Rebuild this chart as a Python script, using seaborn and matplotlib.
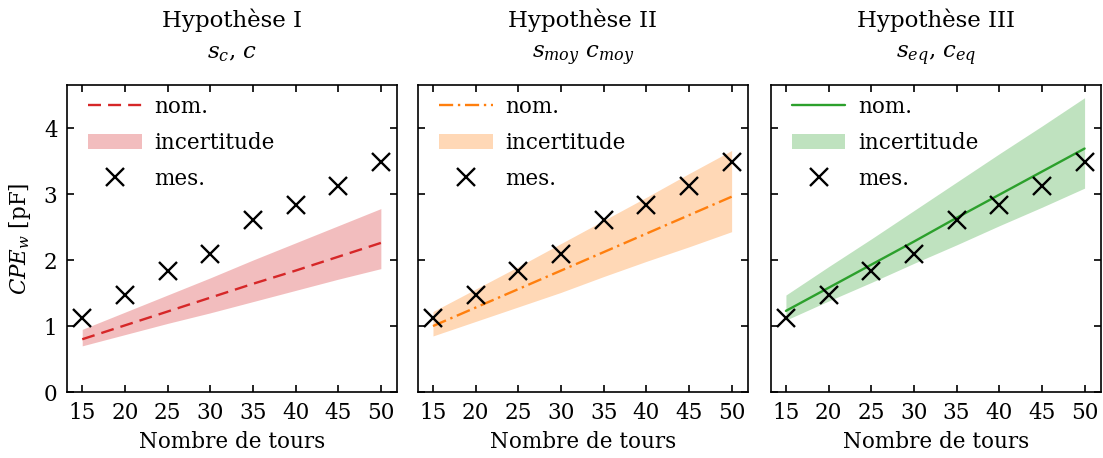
import pandas as pd
import seaborn as sns
import matplotlib
matplotlib.use("Agg")
import matplotlib.pyplot as plt
from matplotlib.patches import Patch
from matplotlib.lines import Line2D

# données
tours = [15, 20, 25, 30, 35, 40, 45, 50]
mesure = [1.12, 1.47, 1.84, 2.09, 2.61, 2.83, 3.12, 3.48]

nom_1 = [0.80, 1.01, 1.22, 1.43, 1.64, 1.84, 2.05, 2.26]
bas_1 = [0.70, 0.87, 1.04, 1.20, 1.37, 1.54, 1.71, 1.87]
haut_1 = [0.95, 1.21, 1.47, 1.73, 2.00, 2.26, 2.52, 2.78]

nom_2 = [1.00, 1.28, 1.56, 1.84, 2.12, 2.40, 2.68, 2.96]
bas_2 = [0.85, 1.07, 1.29, 1.51, 1.75, 1.98, 2.20, 2.43]
haut_2 = [1.22, 1.56, 1.90, 2.25, 2.60, 2.95, 3.31, 3.66]

nom_3 = [1.23, 1.58, 1.93, 2.28, 2.64, 2.99, 3.34, 3.69]
bas_3 = [1.09, 1.38, 1.66, 1.95, 2.23, 2.52, 2.80, 3.09]
haut_3 = [1.47, 1.90, 2.32, 2.75, 3.18, 3.61, 4.03, 4.46]

titres = ["Hypothèse I\n$s_c$, $c$",
          "Hypothèse II\n$s_{moy}$ $c_{moy}$",
          "Hypothèse III\n$s_{eq}$, $c_{eq}$"]
couleurs = ["#d62728", "#ff7f0e", "#2ca02c"]
tirets = [(5.5, 3), (6, 2, 1, 2), ()]

fs = 15.5

sns.set_theme(style="ticks")
plt.rcParams["font.family"] = ["DejaVu Serif"]
plt.rcParams["mathtext.fontset"] = "dejavuserif"
plt.rcParams["font.size"] = fs
plt.rcParams["text.color"] = "black"
plt.rcParams["axes.labelcolor"] = "black"
plt.rcParams["xtick.direction"] = "in"
plt.rcParams["ytick.direction"] = "in"
plt.rcParams["xtick.top"] = True
plt.rcParams["ytick.right"] = True
plt.rcParams["xtick.major.size"] = 5
plt.rcParams["ytick.major.size"] = 5
plt.rcParams["xtick.major.pad"] = 7
plt.rcParams["ytick.major.pad"] = 7
plt.rcParams["axes.linewidth"] = 1.2
plt.rcParams["axes.edgecolor"] = "black"

fig = plt.figure(figsize=(11.03, 4.58), dpi=100)
lefts = [0.061, 0.379, 0.699]
axes = [fig.add_axes([l, 0.144, 0.299, 0.670]) for l in lefts]

series = [(nom_1, bas_1, haut_1), (nom_2, bas_2, haut_2), (nom_3, bas_3, haut_3)]

for i, ax in enumerate(axes):
    nom, bas, haut = series[i]
    df = pd.DataFrame({"tours": tours, "nom": nom, "mes": mesure})
    ax.fill_between(tours, bas, haut, color=couleurs[i], alpha=0.3, lw=0)
    sns.lineplot(data=df, x="tours", y="nom", ax=ax, color=couleurs[i], lw=1.7)
    if tirets[i]:
        ax.lines[-1].set_dashes(tirets[i])
    ax.plot(tours, mesure, "x", color="black", ms=13, mew=1.7)

    ax.set_xlim(13.25, 51.9)
    ax.set_ylim(0, 4.65)
    ax.set_xticks(tours)
    ax.set_yticks([0, 1, 2, 3, 4])
    ax.tick_params(labelsize=fs, width=1.2, colors="black")
    ax.set_xlabel("Nombre de tours", fontsize=fs, labelpad=5)
    ax.set_title(titres[i], fontsize=16.5, linespacing=1.6, pad=19)
    if i == 0:
        ax.set_ylabel("$CPE_w$ [pF]", fontsize=fs, labelpad=8)
    else:
        ax.set_ylabel("")
        ax.set_yticklabels([])

    ligne = Line2D([], [], color=couleurs[i], lw=1.7)
    if tirets[i]:
        ligne.set_dashes(tirets[i])
    handles = [ligne,
               Patch(facecolor=couleurs[i], alpha=0.3, lw=0),
               Line2D([], [], marker="x", color="black", ls="", ms=13, mew=1.7)]
    ax.legend(handles, ["nom.", "incertitude", "mes."], loc="upper left",
              bbox_to_anchor=(0.03, 1.0), frameon=False, fontsize=fs,
              handlelength=2.5, handletextpad=0.6, labelspacing=0.65,
              borderaxespad=0.0, borderpad=0.5)

fig.savefig("out.png", dpi=100)
